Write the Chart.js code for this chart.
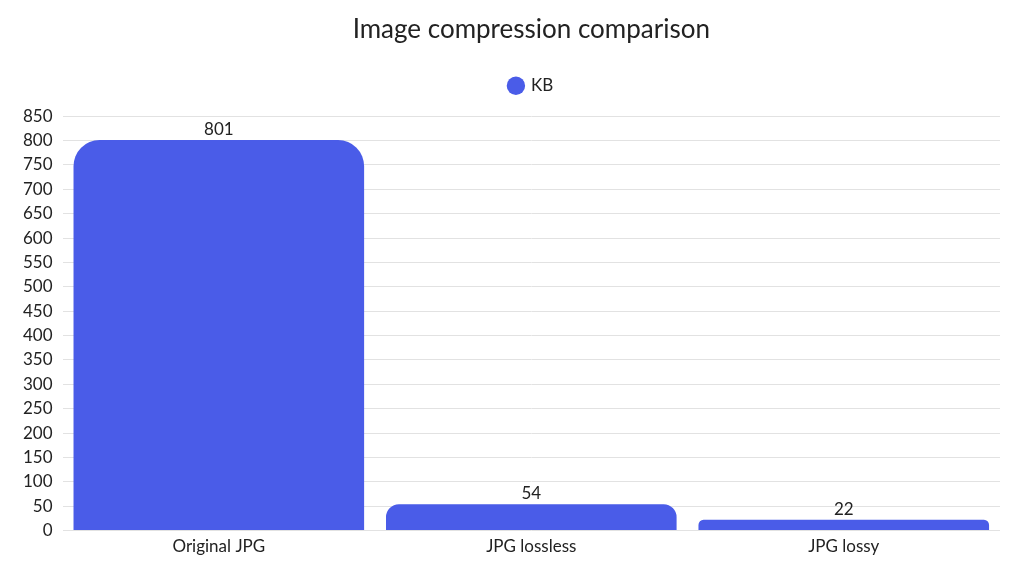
<!DOCTYPE html>
<html>
<head>
<meta charset="utf-8">
<script src="https://cdn.jsdelivr.net/npm/chart.js@4"></script>
<style>
  html, body { margin: 0; padding: 0; background: #fff; }
  #wrap { width: 1024px; height: 576px; }
</style>
</head>
<body>
<div id="wrap"><canvas id="chart"></canvas></div>
<script>
// Data
const categories = ['Original JPG', 'JPG lossless', 'JPG lossy'];
const sizesKB = [801, 54, 22];
const seriesLabel = 'KB';
const chartTitle = 'Image compression comparison';

const barColor = '#4A5CE8';
const textColor = '#222222';

// draws the value above each bar
const valueLabels = {
  id: 'valueLabels',
  afterDatasetsDraw(chart) {
    const ctx = chart.ctx;
    const meta = chart.getDatasetMeta(0);
    ctx.save();
    ctx.font = '17px Lato, sans-serif';
    ctx.fillStyle = textColor;
    ctx.textAlign = 'center';
    ctx.textBaseline = 'bottom';
    meta.data.forEach((bar, i) => {
      ctx.fillText(String(sizesKB[i]), bar.x, bar.y - 2);
    });
    ctx.restore();
  }
};

// a bit more room under the legend
const legendGap = {
  id: 'legendGap',
  beforeInit(chart) {
    const fit = chart.legend.fit;
    chart.legend.fit = function () {
      fit.bind(chart.legend)();
      this.height += 12;
    };
  }
};

Chart.defaults.font.family = 'Lato, sans-serif';
Chart.defaults.color = textColor;

new Chart(document.getElementById('chart'), {
  type: 'bar',
  data: {
    labels: categories,
    datasets: [{
      label: seriesLabel,
      data: sizesKB,
      backgroundColor: barColor,
      borderRadius: { topLeft: 26, topRight: 26 },
      borderSkipped: 'start',
      categoryPercentage: 0.93,
      barPercentage: 1
    }]
  },
  options: {
    responsive: true,
    maintainAspectRatio: false,
    animation: false,
    layout: { padding: { left: 13, right: 24, top: 10, bottom: 13 } },
    plugins: {
      title: {
        display: true,
        fullSize: false,
        text: chartTitle,
        font: { size: 26, weight: 'normal' },
        color: textColor,
        padding: { top: 4, bottom: 22 }
      },
      legend: {
        fullSize: false,
        labels: {
          usePointStyle: true,
          pointStyle: 'circle',
          boxWidth: 13,
          boxHeight: 13,
          font: { size: 17 },
          color: textColor,
          padding: 10
        }
      },
      tooltip: { enabled: false }
    },
    scales: {
      x: {
        grid: { display: false, drawTicks: false },
        border: { display: false },
        ticks: { font: { size: 17 }, color: textColor, padding: 6 }
      },
      y: {
        min: 0,
        max: 850,
        ticks: { stepSize: 50, font: { size: 17 }, color: textColor, padding: 10 },
        grid: { color: '#e2e2e2', drawTicks: false },
        border: { display: false }
      }
    }
  },
  plugins: [valueLabels, legendGap]
});
</script>
</body>
</html>
